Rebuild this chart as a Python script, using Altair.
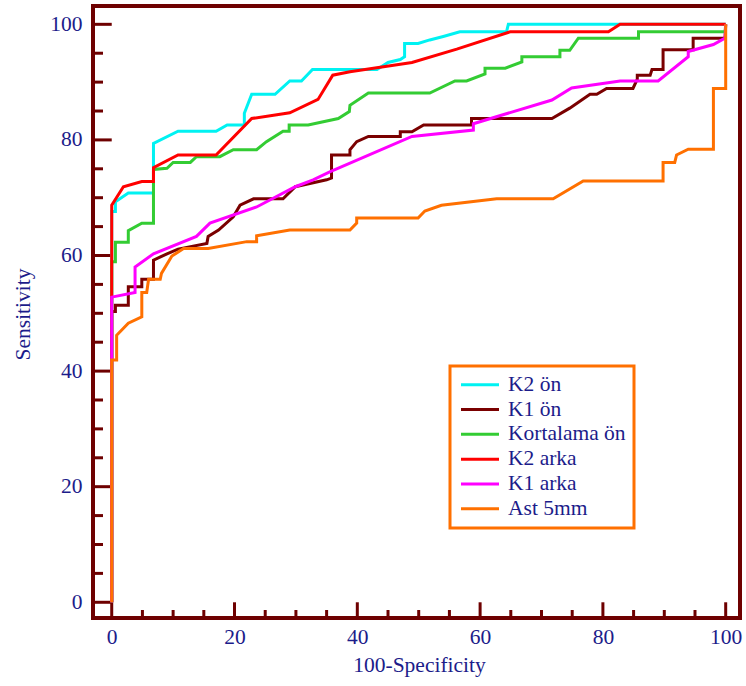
import altair as alt
import pandas as pd

series_names = ["K2 ön", "K1 ön", "Kortalama ön", "K2 arka", "K1 arka", "Ast 5mm"]
series_colors = ["#00F2F2", "#7A0000", "#33CC33", "#FF0000", "#FF00FF", "#FF7000"]

k2_on_x = [0, 0, 0.6, 0.6, 2.7, 6.8, 6.8, 10.8, 17.0, 18.8, 21.6, 21.6, 22.8, 26.6, 29.0, 30.9, 32.7,
           43.2, 45.0, 47.0, 47.7, 47.7, 49.9, 51.8, 54.0, 56.7, 64.3, 64.6, 100]
k2_on_y = [0, 67.6, 67.6, 69.3, 70.8, 70.8, 79.4, 81.5, 81.5, 82.6, 82.6, 84.6, 87.9, 87.9, 90.2, 90.2, 92.2,
           92.2, 93.4, 93.9, 94.4, 96.7, 96.7, 97.3, 97.9, 98.7, 98.7, 100, 100]

k1_on_x = [0, 0, 0.6, 0.6, 2.7, 2.7, 4.9, 4.9, 6.8, 6.8, 9.0, 10.8, 15.5, 15.7, 17.4, 19.8, 20.9, 23.1, 27.9,
           29.9, 35.0, 35.8, 35.8, 38.8, 38.8, 39.9, 41.8, 47.0, 47.0, 48.9, 50.8, 58.6, 58.6, 71.7, 74.6,
           77.9, 79.0, 80.6, 84.9, 85.6, 85.6, 87.7, 88.0, 89.8, 89.8, 94.7, 94.7, 99.9, 100]
k1_on_y = [0, 50.3, 50.3, 51.4, 51.4, 54.6, 54.6, 55.9, 55.9, 59.2, 60.3, 61.1, 62.1, 63.3, 64.4, 66.7, 68.7,
           69.8, 69.8, 71.9, 73.1, 73.4, 77.4, 77.4, 78.3, 79.7, 80.6, 80.6, 81.4, 81.4, 82.6, 82.6, 83.7, 83.7,
           85.5, 87.9, 87.9, 88.9, 88.9, 90.5, 91.2, 91.2, 92.2, 92.2, 95.6, 95.6, 97.6, 97.6, 100]

kort_on_x = [0, 0, 0.6, 0.6, 2.7, 2.7, 4.9, 6.8, 6.8, 9.0, 10.0, 12.8, 13.8, 17.6, 19.8, 23.6, 25.2, 27.9,
             28.9, 28.9, 32.0, 36.9, 38.7, 38.8, 41.8, 51.8, 55.9, 57.8, 60.8, 60.8, 64.1, 66.8, 66.8, 73.0,
             73.0, 74.6, 76.0, 85.8, 85.8, 99.9, 100]
kort_on_y = [0, 58.9, 58.9, 62.3, 62.3, 64.3, 65.6, 65.6, 74.9, 75.1, 76.1, 76.1, 77.1, 77.1, 78.3, 78.3,
             79.7, 81.5, 81.5, 82.6, 82.6, 83.7, 84.9, 86.0, 88.1, 88.1, 90.2, 90.2, 91.4, 92.4, 92.4, 93.5,
             94.4, 94.4, 95.5, 95.5, 97.6, 97.6, 98.7, 98.7, 100]

k2_arka_x = [0, 0, 1.9, 4.9, 6.8, 6.8, 10.8, 17.0, 22.8, 29.0, 33.6, 36.0, 38.8, 48.9, 56.2, 64.9, 80.9,
             82.8, 100]
k2_arka_y = [0, 68.7, 71.9, 72.8, 72.8, 75.2, 77.4, 77.4, 83.7, 84.7, 87.0, 91.2, 91.8, 93.4, 95.7, 98.7,
             98.7, 100, 100]

k1_arka_x = [0, 0, 3.8, 3.8, 6.8, 13.8, 16.0, 23.6, 29.9, 32.8, 35.6, 48.9, 58.9, 58.9, 71.7, 74.9, 82.8,
             89.0, 93.9, 93.9, 98.0, 99.9, 100]
k1_arka_y = [0, 52.8, 53.6, 58.0, 60.3, 63.3, 65.6, 68.4, 71.9, 73.1, 74.5, 80.6, 81.7, 82.8, 86.9, 89.0,
             90.2, 90.2, 94.4, 95.3, 96.5, 97.6, 100]

ast_x = [0, 0, 0.8, 0.8, 2.7, 4.9, 4.9, 5.7, 6.0, 7.9, 8.1, 9.8, 11.7, 15.7, 22.0, 23.6, 23.6, 29.0, 38.8,
         39.9, 39.9, 49.9, 51.0, 53.7, 62.7, 71.9, 76.8, 89.8, 89.8, 91.7, 92.0, 93.9, 98.0, 98.0, 100, 100]
ast_y = [0, 41.9, 41.9, 46.2, 48.3, 49.4, 53.6, 53.6, 55.9, 55.9, 56.9, 59.9, 61.2, 61.2, 62.4, 62.4, 63.4,
         64.4, 64.4, 65.6, 66.5, 66.5, 67.7, 68.7, 69.8, 69.8, 72.9, 72.9, 76.1, 76.1, 77.4, 78.4, 78.4, 88.9,
         88.9, 100]

major_ticks = [0, 20, 40, 60, 80, 100]
minor_ticks = [5, 10, 15, 25, 30, 35, 45, 50, 55, 65, 70, 75, 85, 90, 95]

all_x = [k2_on_x, k1_on_x, kort_on_x, k2_arka_x, k1_arka_x, ast_x]
all_y = [k2_on_y, k1_on_y, kort_on_y, k2_arka_y, k1_arka_y, ast_y]

rows = []
for name, xs_, ys_ in zip(series_names, all_x, all_y):
    for i, (a, b) in enumerate(zip(xs_, ys_)):
        rows.append({"series": name, "x": a, "y": b, "i": i})
df = pd.DataFrame(rows)

major_df = pd.DataFrame({"v": major_ticks, "z": [0] * len(major_ticks)})
minor_df = pd.DataFrame({"v": minor_ticks})

W, H = 647, 612
FRAME = "#6E0000"
NAVY = "#1C1C8A"
FONT = "Liberation Serif"
FS = 21.5

xs = alt.Scale(domain=[-3.05, 102.33], nice=False, zero=False)
ys = alt.Scale(domain=[-2.72, 103.17], nice=False, zero=False)

x_axis = alt.Axis(values=major_ticks, ticks=False, tickSize=0, domain=False, grid=False,
                  labelFont=FONT, labelFontSize=FS, labelColor=NAVY, labelPadding=8,
                  title="100-Specificity", titleFont=FONT, titleFontSize=FS, titleFontWeight="normal",
                  titleColor=NAVY, titleX=326, titleY=47, titleBaseline="middle")
y_axis = alt.Axis(values=major_ticks, ticks=False, tickSize=0, domain=False, grid=False,
                  labelFont=FONT, labelFontSize=FS, labelColor=NAVY, labelPadding=11,
                  title="Sensitivity", titleFont=FONT, titleFontSize=FS, titleFontWeight="normal",
                  titleColor=NAVY, titleX=-70, titleY=308, titleBaseline="middle", titleAngle=270)

legend = alt.Legend(title=None, orient="none", legendX=357, legendY=360, padding=8,
                    strokeColor="#FF7000", fillColor="white",
                    symbolType="M-0.96875,0H3.78125", symbolSize=256, symbolStrokeWidth=3,
                    labelOffset=28.5, labelFont=FONT, labelFontSize=FS, labelColor=NAVY,
                    rowPadding=1.8, labelLimit=300)

color_enc = alt.Color("series:N", scale=alt.Scale(domain=series_names, range=series_colors), legend=legend)

tick_style = dict(color=FRAME, strokeWidth=3)

x_major = alt.Chart(major_df).mark_rule(**tick_style).encode(
    x=alt.X("v:Q", scale=xs, axis=x_axis), y=alt.Y("z:Q", scale=ys, axis=y_axis), y2=alt.value(H))
x_minor = alt.Chart(minor_df).mark_rule(**tick_style).encode(
    x=alt.X("v:Q", scale=xs, axis=x_axis), y=alt.value(H), y2=alt.value(H - 8))
y_major = alt.Chart(major_df).mark_rule(**tick_style).encode(
    y=alt.Y("v:Q", scale=ys, axis=y_axis), x=alt.X("z:Q", scale=xs, axis=x_axis), x2=alt.value(0))
y_minor = alt.Chart(minor_df).mark_rule(**tick_style).encode(
    y=alt.Y("v:Q", scale=ys, axis=y_axis), x=alt.value(0), x2=alt.value(10))

line_layers = []
for name in series_names:
    line_layers.append(
        alt.Chart(df).transform_filter(alt.datum.series == name).mark_line(strokeWidth=3).encode(
            x=alt.X("x:Q", scale=xs, axis=x_axis),
            y=alt.Y("y:Q", scale=ys, axis=y_axis),
            color=color_enc,
            order=alt.Order("i:Q"),
        )
    )

chart = alt.layer(x_major, x_minor, y_major, y_minor, *line_layers).properties(
    width=W, height=H,
    autosize=alt.AutoSizeParams(type="none"),
    padding={"left": 93, "top": 6, "right": 6, "bottom": 68},
    background="white",
).configure_view(stroke=FRAME, strokeWidth=4).configure_legend(strokeWidth=3)

chart.save("out.html", embed_options={"renderer": "svg", "actions": False})
